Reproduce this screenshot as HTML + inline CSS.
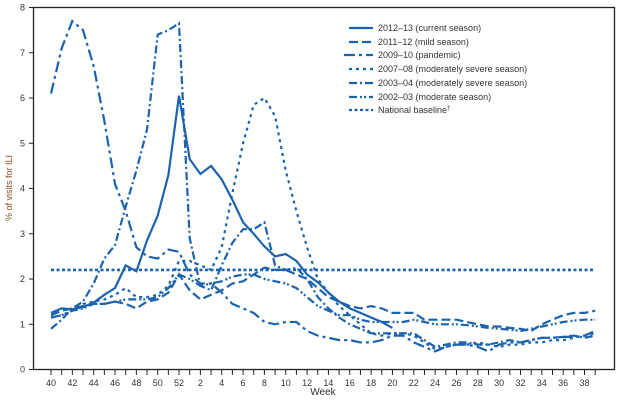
<!DOCTYPE html>
<html><head><meta charset="utf-8"><style>
body{margin:0;background:#fff;width:629px;height:400px;overflow:hidden}
text{font-family:"Liberation Sans",sans-serif;fill:#333}
</style></head><body>
<svg id="s" width="629" height="400" xmlns="http://www.w3.org/2000/svg">
<rect x="33.5" y="7.5" width="581" height="362" fill="none" stroke="#222" stroke-width="1.3"/>
<g id="ax"></g>
<g id="lines" fill="none" stroke="#1b63ad" stroke-width="2.2"></g>
<text x="12" y="188" font-size="9" transform="rotate(-90 12 188)" text-anchor="middle" style="fill:#8a4a20">% of visits for ILI</text>
<text x="323" y="395" font-size="10" text-anchor="middle">Week</text>
<g font-size="9">
<text x="378" y="31">2012–13 (current season)</text>
<text x="378" y="45">2011–12 (mild season)</text>
<text x="378" y="58">2009–10 (pandemic)</text>
<text x="378" y="72">2007–08 (moderately severe season)</text>
<text x="378" y="86">2003–04 (moderately severe season)</text>
<text x="378" y="100">2002–03 (moderate season)</text>
<text x="378" y="113">National baseline<tspan font-size="6" dy="-3">†</tspan></text>
</g>
<g id="leg" fill="none" stroke="#1b63ad" stroke-width="2.2"></g>
</svg>
<script>
function X(i){return 51+i*10.67}
function Y(v){return 369.5-v*45.25}
var ax=document.getElementById('ax'),h='';
for(var v=0;v<=8;v++){h+='<line x1="29" x2="33.5" y1="'+Y(v)+'" y2="'+Y(v)+'" stroke="#222"/><text x="25" y="'+(Y(v)+3)+'" font-size="9" text-anchor="end">'+v+'</text>';}
for(var i=0;i<=51;i++){var w=i<=12?i+40:i-12;h+='<line x1="'+X(i)+'" x2="'+X(i)+'" y1="370" y2="375" stroke="#222"/>';if(w%2==0)h+='<text x="'+X(i)+'" y="386" font-size="9" text-anchor="middle">'+w+'</text>';}
ax.innerHTML=h;
var S=[
{d:"",v:[1.25,1.35,1.33,1.38,1.48,1.65,1.8,2.3,2.17,2.85,3.4,4.3,6.05,4.65,4.32,4.5,4.2,3.75,3.25,3.0,2.72,2.5,2.55,2.4,2.1,1.93,1.7,1.5,1.35,1.25,1.15,1.05,0.92]},
{d:"9 4",v:[1.2,1.3,1.35,1.4,1.45,1.45,1.5,1.45,1.35,1.5,1.55,1.7,2.1,1.75,1.55,1.65,1.75,1.9,1.95,2.1,2.25,2.2,2.2,2.1,2.0,1.8,1.6,1.5,1.4,1.35,1.4,1.35,1.25,1.25,1.25,1.1,1.1,1.1,1.1,1.05,1.0,0.95,0.95,0.92,0.9,0.85,1.0,1.1,1.2,1.25,1.25,1.3]},
{d:"11 4 3 4",v:[6.1,7.1,7.7,7.5,6.7,5.5,4.1,3.5,2.7,2.5,2.45,2.65,2.6,2.1,1.9,1.9,1.7,1.45,1.35,1.25,1.05,1.0,1.05,1.05,0.85,0.75,0.7,0.65,0.65,0.6,0.6,0.65,0.75,0.75,0.6,0.5,0.4,0.5,0.55,0.55,0.5,0.4,0.55,0.6,0.6,0.65,0.7,0.7,0.72,0.72,0.75,0.85]},
{d:"3 4",v:[1.15,1.2,1.3,1.45,1.5,1.55,1.65,1.8,1.6,1.6,1.65,1.85,2.4,2.4,2.3,2.2,2.7,3.9,5.0,5.85,6.0,5.6,4.4,3.5,2.7,2.0,1.7,1.4,1.2,1.0,0.8,0.75,0.8,0.8,0.75,0.6,0.45,0.5,0.55,0.55,0.6,0.55,0.5,0.55,0.55,0.6,0.6,0.65,0.65,0.7,0.75,0.8]},
{d:"8 3 2 3",v:[0.9,1.1,1.35,1.5,1.9,2.45,2.75,3.6,4.4,5.3,7.4,7.5,7.65,2.9,1.85,1.75,2.3,2.8,3.1,3.1,3.25,2.3,2.2,2.25,2.0,1.6,1.35,1.15,1.0,0.9,0.8,0.8,0.8,0.8,0.8,0.65,0.5,0.55,0.6,0.6,0.55,0.55,0.6,0.65,0.6,0.65,0.7,0.7,0.72,0.75,0.7,0.75]},
{d:"8 3 2 2 2 3",v:[1.15,1.2,1.3,1.35,1.45,1.45,1.5,1.55,1.55,1.55,1.6,1.8,2.1,2.0,1.85,1.9,1.95,2.05,2.1,2.1,2.0,1.95,1.9,1.8,1.6,1.4,1.3,1.2,1.2,1.1,1.05,1.05,1.05,1.05,1.1,1.05,1.0,1.0,1.0,0.98,0.95,0.92,0.9,0.88,0.85,0.9,0.95,1.0,1.05,1.08,1.1,1.1]}
];
var g=document.getElementById('lines'),o='';
S.forEach(function(s){var p=s.v.map(function(v,i){return X(i).toFixed(1)+','+Y(v).toFixed(1)}).join(' ');o+='<polyline points="'+p+'" stroke-dasharray="'+(s.d||'none')+'"/>';});
o+='<line x1="51" x2="595" y1="'+Y(2.2)+'" y2="'+Y(2.2)+'" stroke-dasharray="3 2.5" stroke-width="2.6"/>';
g.innerHTML=o;
var L=document.getElementById('leg'),q='';var ys=[28,42,55,69,83,97,110];var ds=['none','9 4','11 4 3 4','3 4','8 3 2 3','8 3 2 2 2 3','3 2.5'];
ys.forEach(function(y,i){q+='<line x1="'+(i==2?344:349)+'" x2="373" y1="'+y+'" y2="'+y+'" stroke-dasharray="'+ds[i]+'"/>';});
L.innerHTML=q;
</script>
</body></html>
